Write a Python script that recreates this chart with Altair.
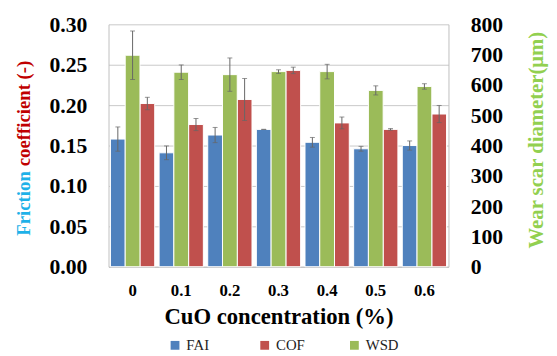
import altair as alt
import pandas as pd

conc = ["0", "0.1", "0.2", "0.3", "0.4", "0.5", "0.6"]
fai = [0.158, 0.141, 0.163, 0.170, 0.154, 0.146, 0.150]
fai_err = [0.015, 0.0085, 0.0094, 0.0, 0.006, 0.003, 0.0057]
cof = [0.202, 0.176, 0.207, 0.243, 0.178, 0.170, 0.189]
cof_err = [0.0077, 0.0075, 0.026, 0.004, 0.0073, 0.001, 0.0106]
wsd = [698, 642, 634, 644, 644, 582, 595]
wsd_err = [80, 24, 55, 6, 24, 15, 9]

series_order = ["FAI", "WSD", "COF"]
legend_order = ["FAI", "COF", "WSD"]
colors = ["#4F81BD", "#C0504D", "#9BBB59"]
FONT = "'Liberation Serif', 'Times New Roman', serif"

rows_left = []
for i, c in enumerate(conc):
    rows_left.append({"conc": c, "series": "FAI", "value": fai[i], "lo": fai[i] - fai_err[i], "hi": fai[i] + fai_err[i]})
    rows_left.append({"conc": c, "series": "COF", "value": cof[i], "lo": cof[i] - cof_err[i], "hi": cof[i] + cof_err[i]})
rows_right = []
for i, c in enumerate(conc):
    rows_right.append({"conc": c, "series": "WSD", "value": wsd[i], "lo": wsd[i] - wsd_err[i], "hi": wsd[i] + wsd_err[i]})
df_left = pd.DataFrame(rows_left)
df_right = pd.DataFrame(rows_right)

x_enc = alt.X("conc:N", sort=conc, title="CuO concentration (%)",
              scale=alt.Scale(paddingInner=0.09, paddingOuter=0.04),
              axis=alt.Axis(labelAngle=0, ticks=False, labelPadding=16, labelFontSize=17,
                            labelFontWeight="bold", labelFont=FONT, labelColor="black",
                            titleFont=FONT, titleFontSize=23, titleFontWeight="bold",
                            titleColor="black", titlePadding=8, domainColor="#bfbfbf", grid=False))
xo = alt.XOffset("series:N", scale=alt.Scale(domain=series_order, paddingInner=0))
color_enc = alt.Color("series:N", scale=alt.Scale(domain=legend_order, range=colors),
                      legend=alt.Legend(title=None, orient="none", legendX=60, legendY=318,
                                        direction="horizontal", columns=3, gridAlign="all",
                                        columnPadding=38, symbolType="square", symbolSize=80,
                                        symbolStrokeWidth=0, labelFont=FONT, labelFontSize=15,
                                        labelColor="#222222"))

left_axis = alt.Axis(title="", values=[0, 0.05, 0.10, 0.15, 0.20, 0.25, 0.30], format=".2f",
                     ticks=False, labelPadding=22, labelFont=FONT, labelFontSize=22,
                     labelFontWeight="bold", labelColor="black", grid=True,
                     gridColor="#c8c8c8", domainColor="#bfbfbf")
right_axis = alt.Axis(orient="right", title="Wear scar diameter(μm)",
                      values=[0, 100, 200, 300, 400, 500, 600, 700, 800],
                      ticks=False, labelPadding=22, labelFont=FONT, labelFontSize=22,
                      labelFontWeight="bold", labelColor="black", grid=False,
                      domainColor="#bfbfbf", titleFont=FONT, titleFontSize=21,
                      titleFontWeight="bold", titleColor="#92D050", titleAngle=270,
                      titleX=89, titleY=117, titleAlign="center", titleBaseline="middle")

yl_scale = alt.Scale(domain=[0, 0.30])
yr_scale = alt.Scale(domain=[0, 800])


def group(df, scale, axis):
    bars = alt.Chart(df).mark_bar(stroke="white", strokeWidth=1).encode(
        x=x_enc, xOffset=xo,
        y=alt.Y("value:Q", scale=scale, axis=axis),
        color=color_enc)
    err = alt.Chart(df).mark_rule(color="#666666", strokeWidth=1).encode(
        x=alt.X("conc:N", sort=conc), xOffset=xo,
        y=alt.Y("lo:Q", scale=scale, axis=axis), y2="hi:Q")
    cap1 = alt.Chart(df).mark_tick(color="#666666", size=5, thickness=1).encode(
        x=alt.X("conc:N", sort=conc), xOffset=xo, y=alt.Y("lo:Q", scale=scale, axis=axis))
    cap2 = alt.Chart(df).mark_tick(color="#666666", size=5, thickness=1).encode(
        x=alt.X("conc:N", sort=conc), xOffset=xo, y=alt.Y("hi:Q", scale=scale, axis=axis))
    return [bars, err, cap1, cap2]


t1 = alt.Chart(pd.DataFrame({"t": ["Friction"]})).mark_text(
    angle=270, align="right", baseline="middle", font=FONT, fontSize=19,
    fontWeight="bold", color="#1EB1E8").encode(x=alt.value(-86), y=alt.value(149), text="t:N")
t2 = alt.Chart(pd.DataFrame({"t": ["coefficient (-)"]})).mark_text(
    angle=270, align="left", baseline="middle", font=FONT, fontSize=19,
    fontWeight="bold", color="#C00000").encode(x=alt.value(-86), y=alt.value(144), text="t:N")

left = alt.layer(*group(df_left, yl_scale, left_axis), t1, t2)
right = alt.layer(*group(df_right, yr_scale, right_axis))

chart = alt.layer(left, right).resolve_scale(y="independent").properties(
    width=345, height=246,
    autosize=alt.AutoSizeParams(type="none"),
    padding={"left": 102, "top": 14, "right": 102, "bottom": 88},
    background="white",
).configure_view(strokeWidth=0)

chart.save("out.html", embed_options={"renderer": "svg", "actions": False})
